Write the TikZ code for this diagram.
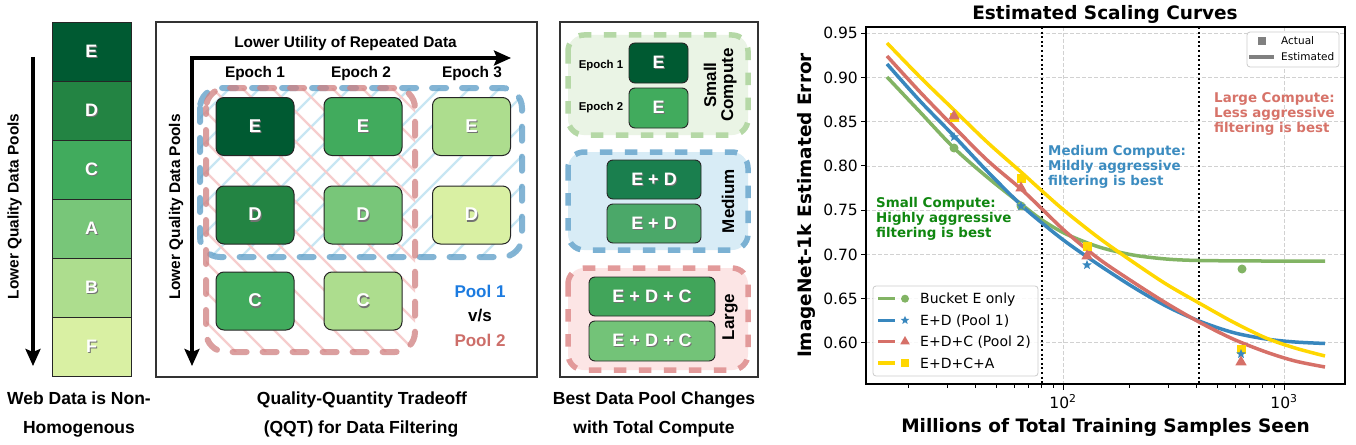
\documentclass[tikz,border=0pt]{standalone}
\usepackage{fontspec}
\setmainfont{Liberation Sans}
\newfontfamily\dvs{DejaVu Sans}
\usetikzlibrary{arrows.meta,shapes.geometric}
\definecolor{gE}{HTML}{005A32}
\definecolor{gD}{HTML}{238443}
\definecolor{gC}{HTML}{41AB5D}
\definecolor{gA}{HTML}{78C679}
\definecolor{gB}{HTML}{ADDD8E}
\definecolor{gF}{HTML}{D9F0A3}
\definecolor{mDa}{HTML}{1A7F4E}
\definecolor{mDb}{HTML}{4BA869}
\definecolor{lCa}{HTML}{41A55A}
\definecolor{lCb}{HTML}{73C378}
\definecolor{poolB}{HTML}{5A9CC6}
\definecolor{poolR}{HTML}{D08080}
\definecolor{hatchB}{HTML}{C8E6F3}
\definecolor{hatchR}{HTML}{F6CDCD}
\definecolor{txtB}{HTML}{1C7BE0}
\definecolor{txtR}{HTML}{CD6E69}
\definecolor{smD}{HTML}{B5D8A6}
\definecolor{smF}{HTML}{EAF4E5}
\definecolor{meD}{HTML}{7BB1D3}
\definecolor{meF}{HTML}{D8ECF6}
\definecolor{laD}{HTML}{E29A9A}
\definecolor{laF}{HTML}{FCE5E5}
\definecolor{cG}{RGB}{130,180,100}
\definecolor{cB}{RGB}{56,135,190}
\definecolor{cR}{RGB}{214,112,104}
\definecolor{cY}{RGB}{255,215,0}
\definecolor{aG}{RGB}{16,135,16}
\definecolor{aB}{RGB}{60,140,192}
\definecolor{aR}{RGB}{215,115,105}
\newcommand{\shd}[1]{\leavevmode\rlap{\kern1pt\raisebox{-1.3pt}{\color{black!55}#1}}#1}
\begin{document}
\begin{tikzpicture}[x=1pt,y=-1pt,
  cellbox/.style={draw=black!85, line width=0.9pt, minimum width=79pt, minimum height=59pt, inner sep=0pt, text=white, font=\fontsize{18}{20}\selectfont\bfseries},
  gbox/.style={draw=black!85, line width=1pt, rounded corners=8pt, minimum width=78pt, minimum height=58pt, inner sep=0pt, text=white, font=\fontsize{18.5}{20}\selectfont\bfseries},
  sbox/.style={draw=black!85, line width=0.9pt, rounded corners=6pt, inner sep=0pt, text=white, font=\fontsize{18}{20}\selectfont\bfseries},
  bigarrow/.style={line width=3.2pt, -{Stealth[length=17pt,width=15pt,inset=3pt]}},
  framebox/.style={draw=black!80, line width=1.1pt},
  captxt/.style={font=\fontsize{17.5}{20}\selectfont\bfseries, inner sep=0pt, anchor=base},
  axltxt/.style={font=\fontsize{15.4}{17}\selectfont\bfseries, inner sep=0pt, anchor=base},
  epstxt/.style={font=\fontsize{11.4}{13}\selectfont\bfseries, inner sep=0pt, anchor=base},
  pooltxt/.style={font=\fontsize{17}{19}\selectfont\bfseries, inner sep=0pt, anchor=base},
  rotltxt/.style={font=\fontsize{17}{19}\selectfont\bfseries, inner sep=0pt, anchor=base, rotate=90},
  poolline/.style={line width=6pt, line cap=round, rounded corners=20pt, dash pattern=on 14pt off 16pt, draw opacity=0.75},
  grpline/.style={line width=5.5pt, rounded corners=16pt, dash pattern=on 12.5pt off 12.5pt},
  ticklbl/.style={font=\dvs\fontsize{15.5}{17}\selectfont, inner sep=0pt},
  gridl/.style={draw=black!18, line width=0.8pt, dash pattern=on 4pt off 2pt},
  curveline/.style={line width=3.5pt},
  dotl/.style={line width=2pt, dash pattern=on 2pt off 2.6pt},
  axlab/.style={font=\dvs\bfseries\fontsize{18.5}{20}\selectfont, inner sep=0pt, anchor=base},
  anntxt/.style={font=\dvs\bfseries\fontsize{13.4}{15}\selectfont, inner sep=0pt, anchor=base west},
  legtxt/.style={font=\dvs\fontsize{14}{16}\selectfont, inner sep=0pt, anchor=base west},
  legstxt/.style={font=\dvs\fontsize{10.5}{12}\selectfont, inner sep=0pt, anchor=base west},
  mcirc/.style={circle, fill=cG, minimum size=9pt, inner sep=0pt},
  mstar/.style={star, star points=5, star point ratio=2.3, fill=cB, minimum size=10pt, inner sep=0pt},
  mtri/.style={regular polygon, regular polygon sides=3, fill=cR, minimum size=13pt, inner sep=0pt},
  msq/.style={rectangle, fill=cY, minimum size=9pt, inner sep=0pt}
]
\useasboundingbox (0,0) rectangle (1356,444);
\fill[white] (0,0) rectangle (1356,444);

%% ---------------- Panel 1
\coordinate (p1top) at (33,57);
\coordinate (p1bot) at (33,366);
\draw[bigarrow] (p1top) -- (p1bot);
\node[axltxt, rotate=90] (p1lab) at (18.6,206.5) {Lower Quality Data Pools};
\foreach \n/\c/\yy in {E/gE/51.5, D/gD/110.5, C/gC/169.5, A/gA/228.5, B/gB/287.5, F/gF/346.5}
  \node[cellbox, fill=\c] (col\n) at (91.5,\yy) {\shd{\n}};
\node[captxt] (cap1a) at (79,404) {Web Data is Non-};
\node[captxt] (cap1b) at (79,433.5) {Homogenous};

%% ---------------- Panel 2
\draw[framebox] (156,22) rectangle (537,377);
\begin{scope}
  \clip[rounded corners=20pt] (200,88) rectangle (522,257);
  \foreach \a in {31,61,...,543} \draw[hatchB, line width=2.3pt] (\a,257) -- ++(169,-169);
\end{scope}
\begin{scope}
  \clip[rounded corners=20pt] (206,88) rectangle (415,352);
  \foreach \a in {-58,-28,...,422} \draw[hatchR, line width=2.3pt] (\a,88) -- ++(264,264);
\end{scope}
\draw[poolline, draw=poolB] (200,88) rectangle (522,257);
\draw[poolline, draw=poolR, dash phase=8pt] (206,88) rectangle (415,352);
\coordinate (axo) at (192,58);
\coordinate (axr) at (511,58);
\coordinate (axb) at (192,366);
\draw[line width=3.2pt, {Stealth[length=17pt,width=15pt,inset=3pt]}-{Stealth[length=17pt,width=15pt,inset=3pt]}] (axb) -- (axo) -- (axr);
\node[axltxt] (lur) at (345.5,48) {Lower Utility of Repeated Data};
\node[axltxt] (ep1) at (255,77.4) {Epoch 1};
\node[axltxt] (ep2) at (361,77.4) {Epoch 2};
\node[axltxt] (ep3) at (472,77.4) {Epoch 3};
\node[axltxt, rotate=90] (p2lab) at (180,207) {Lower Quality Data Pools};
\node[gbox, fill=gE] (bE1) at (255,126.5) {\shd{E}};
\node[gbox, fill=gC] (bE2) at (363,126.5) {\shd{E}};
\node[gbox, fill=gB] (bE3) at (471.5,126.5) {\shd{E}};
\node[gbox, fill=gD] (bD1) at (255,215) {\shd{D}};
\node[gbox, fill=gA] (bD2) at (363,215) {\shd{D}};
\node[gbox, fill=gF] (bD3) at (471.5,215) {\shd{D}};
\node[gbox, fill=gC] (bC1) at (255,301) {\shd{C}};
\node[gbox, fill=gB] (bC2) at (363,301) {\shd{C}};
\node[pooltxt, text=txtB] (pl1) at (480,297.3) {Pool 1};
\node[pooltxt] (vs) at (480,321) {v/s};
\node[pooltxt, text=txtR] (pl2) at (480,346.7) {Pool 2};
\node[captxt] (cap2a) at (362,404) {Quality-Quantity Tradeoff};
\node[captxt] (cap2b) at (361,433.5) {(QQT) for Data Filtering};

%% ---------------- Panel 3
\draw[framebox] (560,22) rectangle (758,377);
\draw[grpline, draw=smD, fill=smF] (568,35) rectangle (748,135);
\draw[grpline, draw=meD, fill=meF] (568,152) rectangle (748,250);
\draw[grpline, draw=laD, fill=laF] (568,268) rectangle (748,370);
\node[sbox, fill=gE, minimum width=59pt, minimum height=40pt] (s1) at (658.5,63) {\shd{E}};
\node[sbox, fill=gC, minimum width=59pt, minimum height=40pt] (s2) at (658.5,108) {\shd{E}};
\node[sbox, fill=mDa, minimum width=94pt, minimum height=39pt] (m1) at (654,179.5) {\shd{E + D}};
\node[sbox, fill=mDb, minimum width=94pt, minimum height=39pt] (m2) at (654,223.5) {\shd{E + D}};
\node[sbox, fill=lCa, minimum width=126pt, minimum height=39pt] (l1) at (652,296.5) {\shd{E + D + C}};
\node[sbox, fill=lCb, minimum width=126pt, minimum height=40pt] (l2) at (652,341) {\shd{E + D + C}};
\node[epstxt] (se1) at (601,68.3) {Epoch 1};
\node[epstxt] (se2) at (601,110.7) {Epoch 2};
\node[rotltxt] (sm1) at (716,85) {Small};
\node[rotltxt] (sm2) at (733,85) {Compute};
\node[rotltxt] (med) at (734,201) {Medium};
\node[rotltxt] (lar) at (734,317) {Large};
\node[captxt] (cap3a) at (654,404) {Best Data Pool Changes};
\node[captxt] (cap3b) at (654,433.5) {with Total Compute};

%% ---------------- Panel 4 (plot)
\foreach \yy/\lab [count=\i] in {33.3/0.95, 77.5/0.90, 121.7/0.85, 165.9/0.80, 210.1/0.75, 254.3/0.70, 298.5/0.65, 342.7/0.60} {
  \draw[gridl] (866,\yy) -- (1345,\yy);
  \draw[line width=1pt] (866,\yy) -- (860.5,\yy);
  \node[ticklbl, anchor=base east] (yt\i) at (858,\yy+5.7) {\lab};
}
\foreach \xx in {1063,1284} {
  \draw[gridl] (\xx,27) -- (\xx,384);
  \draw[line width=1pt] (\xx,384) -- (\xx,389.5);
}
\foreach \xx in {908.5,947.4,975,996.5,1014,1028.8,1041.6,1052.9,1129.5,1168.4,1196,1217.5,1235,1249.8,1262.6,1273.9}
  \draw[line width=0.8pt] (\xx,384) -- (\xx,387.5);
\node[ticklbl, anchor=base] (xt2) at (1063,408) {10\textsuperscript{2}};
\node[ticklbl, anchor=base] (xt3) at (1284,408) {10\textsuperscript{3}};
\coordinate (d1t) at (1042,27); \coordinate (d1b) at (1042,384);
\coordinate (d2t) at (1199,27); \coordinate (d2b) at (1199,384);
\draw[dotl] (d1t) -- (d1b);
\draw[dotl] (d2t) -- (d2b);
% curves
\draw[curveline, cG] plot[smooth, tension=0.5] coordinates {(887,77) (920,112) (954,148) (987,177) (1021,204) (1042,220) (1066,234) (1099,247) (1133,255) (1166,259) (1199,260.5) (1262,261) (1325,261)};
\draw[curveline, cB] plot[smooth, tension=0.5] coordinates {(887,64) (920,101) (954,136) (987,171) (1021,205) (1042,223) (1066,242) (1099,265) (1133,287) (1166,306) (1199,321) (1233,332.5) (1266,339) (1295,342) (1325,343.5)};
\draw[curveline, cR] plot[smooth, tension=0.5] coordinates {(887,56) (920,92) (954,127) (987,160) (1021,189) (1042,209) (1066,232) (1099,259) (1133,282) (1166,303) (1199,322) (1233,339) (1266,352) (1295,361) (1325,367)};
\draw[curveline, cY] plot[smooth, tension=0.5] coordinates {(887,43) (920,77) (954,110) (987,142) (1021,172) (1042,191) (1066,212) (1099,238) (1133,262) (1166,284) (1199,303) (1233,322) (1266,338) (1295,348) (1325,356)};
% markers
\node[msq] (y1) at (954,117) {};
\node[msq] (y2) at (1021,178) {};
\node[msq] (y3) at (1087,246) {};
\node[msq] (y4) at (1241,349) {};
\node[mcirc] (g1) at (954,148) {};
\node[mcirc] (g2) at (1021,206) {};
\node[mcirc] (g4) at (1242,269) {};
\node[mstar] (b1) at (954,137) {};
\node[mstar] (b2) at (1021,206) {};
\node[mstar] (b3) at (1087,265) {};
\node[mstar] (b4) at (1241,354) {};
\node[mtri] (r1) at (954,116) {};
\node[mtri] (r2) at (1021,188) {};
\node[mtri] (r3) at (1087,256) {};
\node[mtri] (r4) at (1241,362) {};
% frame
\draw[line width=1.2pt] (866,27) rectangle (1345,384);
% legends
\draw[draw=black!20, fill=white, fill opacity=0.85, rounded corners=3pt, line width=0.8pt] (873,286) rectangle (1038,376);
\foreach \yy/\c in {298.7/cG, 320.3/cB, 341.3/cR, 363/cY}
  \draw[line width=3.5pt, \c] (878,\yy) -- (895,\yy);
\node[mcirc, minimum size=8pt] (lg1) at (905,298.7) {};
\node[mstar, minimum size=9pt] (lg2) at (905,320.3) {};
\node[mtri, minimum size=11pt] (lg3) at (905,341.5) {};
\node[msq, minimum size=8pt] (lg4) at (905,363) {};
\node[legtxt] (lt1) at (920,303.8) {Bucket E only};
\node[legtxt] (lt2) at (920,325.4) {E+D (Pool 1)};
\node[legtxt] (lt3) at (920,346.4) {E+D+C (Pool 2)};
\node[legtxt] (lt4) at (920,368.1) {E+D+C+A};
\draw[draw=black!20, fill=white, rounded corners=3pt, line width=0.8pt] (1247,32) rectangle (1339,67);
\node[rectangle, fill=black!50, minimum size=8pt, inner sep=0pt] (la1) at (1262,41) {};
\draw[line width=3.5pt, black!50] (1249,57) -- (1274,57);
\node[legstxt] (lat) at (1281,44.8) {Actual};
\node[legstxt] (lae) at (1281,60.8) {Estimated};
% annotations
\node[anntxt, text=aR] (an1) at (1214,102.3) {Large Compute:};
\node[anntxt, text=aR] (an2) at (1214,117.3) {Less aggressive};
\node[anntxt, text=aR] (an3) at (1214,132.3) {filtering is best};
\node[anntxt, text=aB] (am1) at (1048,155) {Medium Compute:};
\node[anntxt, text=aB] (am2) at (1048,170) {Mildly aggressive};
\node[anntxt, text=aB] (am3) at (1048,185) {filtering is best};
\node[anntxt, text=aG] (as1) at (876,207.8) {Small Compute:};
\node[anntxt, text=aG] (as2) at (876,222.8) {Highly aggressive};
\node[anntxt, text=aG] (as3) at (876,237.8) {filtering is best};
% titles
\node[axlab] (title) at (1105,20) {Estimated Scaling Curves};
\node[axlab] (xlab) at (1105.5,432) {Millions of Total Training Samples Seen};
\node[axlab, rotate=90] (ylab) at (811.5,205.5) {ImageNet-1k Estimated Error};
\end{tikzpicture}
\end{document}
